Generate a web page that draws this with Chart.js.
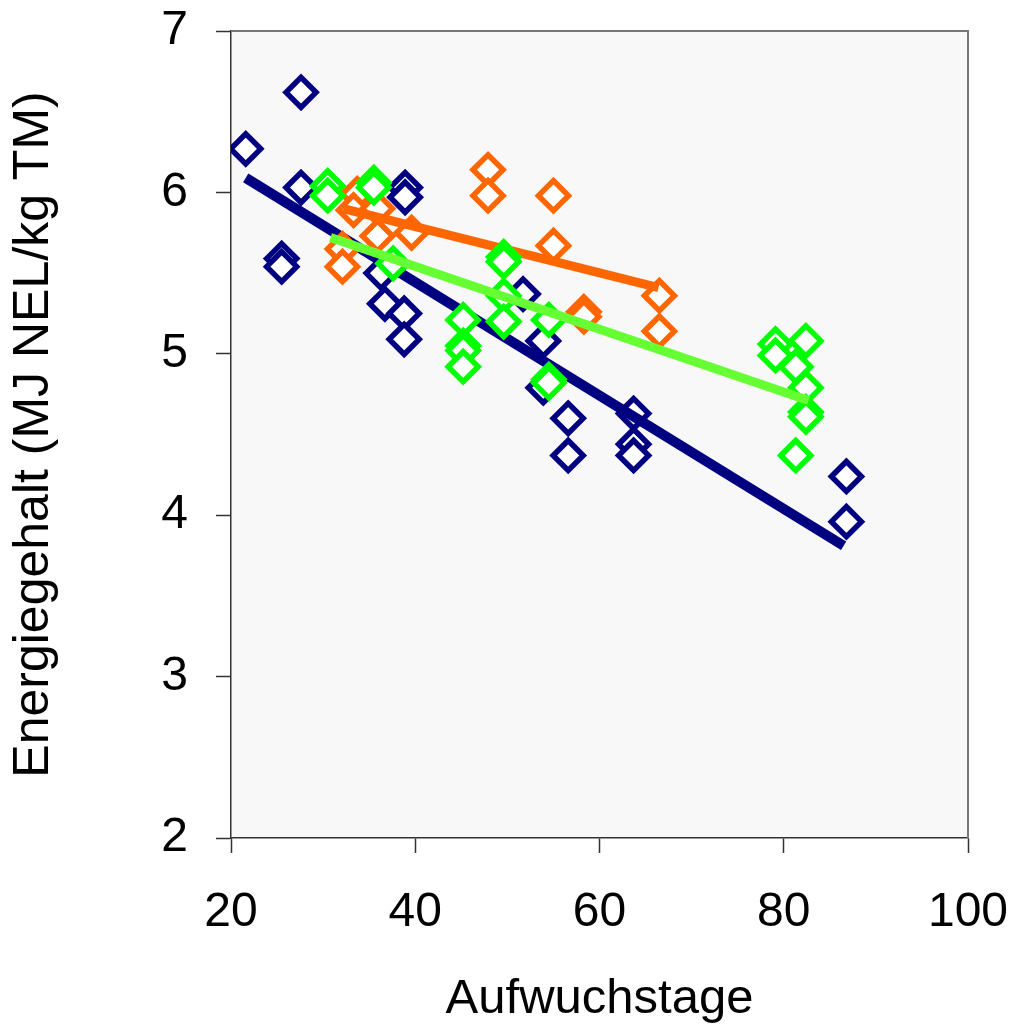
<!DOCTYPE html>
<html>
<head>
<meta charset="utf-8">
<script src="https://cdn.jsdelivr.net/npm/chart.js@4"></script>
<style>
  body { margin: 0; background: #fff; }
</style>
</head>
<body>
<canvas id="myChart" width="1009" height="1033"></canvas>
<script>
// Messpunkte (Aufwuchstage, MJ NEL/kg TM)
const navyX = [21.6, 27.6, 27.6, 25.5, 25.5, 38.9, 38.9, 36.3, 36.7, 38.8, 38.8, 51.7, 53.9, 53.9, 56.6, 56.6, 63.7, 63.7, 63.7, 86.8, 86.8];
const navyY = [6.27, 6.62, 6.03, 5.59, 5.54, 6.03, 5.97, 5.50, 5.31, 5.25, 5.09, 5.37, 5.08, 4.79, 4.60, 4.37, 4.63, 4.44, 4.37, 4.24, 3.96];

const greenX = [30.5, 30.5, 35.5, 35.5, 37.6, 49.6, 49.6, 49.6, 49.6, 45.2, 45.2, 45.2, 45.2, 54.5, 54.5, 54.5, 79.1, 79.1, 82.4, 81.3, 82.4, 82.4, 82.4, 81.3];
const greenY = [6.04, 5.98, 6.06, 6.03, 5.56, 5.60, 5.57, 5.36, 5.20, 5.21, 5.05, 5.02, 4.92, 5.21, 4.84, 4.82, 5.06, 4.99, 5.08, 4.92, 4.79, 4.64, 4.61, 4.37];

const orangeX = [33.7, 33.3, 35.9, 35.9, 39.6, 32.1, 32.1, 47.9, 47.9, 55.0, 55.0, 58.3, 58.3, 66.5, 66.5];
const orangeY = [5.99, 5.89, 5.90, 5.73, 5.75, 5.65, 5.54, 6.14, 5.98, 5.98, 5.67, 5.26, 5.23, 5.36, 5.14];

// Regressionsgeraden (Endpunkte)
const navyLineX = [21.6, 86.5];
const navyLineY = [6.09, 3.81];
const greenLineX = [30.8, 82.7];
const greenLineY = [5.72, 4.71];
const orangeLineX = [32.2, 66.4];
const orangeLineY = [5.90, 5.41];

const xTicks = [20, 40, 60, 80, 100];
const yTicks = [2, 3, 4, 5, 6, 7];

function pts(xs, ys) {
  return xs.map((x, i) => ({ x: x, y: ys[i] }));
}

function pointSet(xs, ys, color, order) {
  return {
    data: pts(xs, ys),
    pointStyle: 'rectRot',
    pointRadius: 15,
    pointHoverRadius: 15,
    pointBorderWidth: 5.5,
    pointBorderColor: color,
    pointBackgroundColor: '#ffffff',
    showLine: false,
    order: order
  };
}

function lineSet(xs, ys, color, width, order) {
  return {
    data: pts(xs, ys),
    showLine: true,
    borderColor: color,
    borderWidth: width,
    pointRadius: 0,
    pointHoverRadius: 0,
    fill: false,
    order: order
  };
}

const plotBg = {
  id: 'plotBg',
  beforeDraw(chart) {
    const { ctx, chartArea: a } = chart;
    ctx.save();
    ctx.fillStyle = '#f8f8f8';
    ctx.fillRect(a.left, a.top, a.right - a.left, a.bottom - a.top);
    ctx.restore();
  },
  afterDraw(chart) {
    const { ctx, chartArea: a } = chart;
    ctx.save();
    ctx.strokeStyle = '#777777';
    ctx.lineWidth = 2;
    ctx.beginPath();
    ctx.moveTo(a.left, a.top);
    ctx.lineTo(a.right, a.top);
    ctx.lineTo(a.right, a.bottom);
    ctx.stroke();
    ctx.restore();
  }
};

const tickFont = { family: '"Liberation Sans", Arial, sans-serif', size: 48, lineHeight: 1 };
const titleFont = { family: '"Liberation Sans", Arial, sans-serif', size: 49, lineHeight: 1 };

const config = {
  type: 'scatter',
  data: {
    datasets: [
      pointSet(navyX, navyY, '#000080', 6),
      lineSet(navyLineX, navyLineY, '#000080', 10, 5),
      pointSet(orangeX, orangeY, '#ff6600', 4),
      lineSet(orangeLineX, orangeLineY, '#ff6600', 9, 3),
      pointSet(greenX, greenY, '#00ff00', 2),
      lineSet(greenLineX, greenLineY, '#66ff33', 9, 1)
    ]
  },
  options: {
    responsive: false,
    animation: false,
    events: [],
    layout: { padding: { top: 31, right: 41, left: 0, bottom: 0 } },
    plugins: {
      legend: { display: false },
      tooltip: { enabled: false }
    },
    scales: {
      x: {
        type: 'linear',
        min: 20,
        max: 100,
        afterFit(scale) {
          scale.height = 195;
          scale.paddingLeft = 0;
          scale.paddingRight = 0;
        },
        afterBuildTicks(scale) { scale.ticks = xTicks.map(v => ({ value: v })); },
        border: { color: '#333333', width: 1.5 },
        grid: { drawOnChartArea: false, drawTicks: true, tickLength: 15, tickColor: '#333333', tickWidth: 1.5 },
        ticks: { color: '#000', font: tickFont, padding: 36, maxRotation: 0 },
        title: { display: true, text: 'Aufwuchstage', color: '#000', font: titleFont, padding: { top: 0, bottom: 9 } }
      },
      y: {
        type: 'linear',
        min: 2,
        max: 7,
        afterFit(scale) {
          scale.width = 231;
          scale.paddingTop = 0;
          scale.paddingBottom = 0;
        },
        afterBuildTicks(scale) { scale.ticks = yTicks.map(v => ({ value: v })); },
        border: { color: '#333333', width: 1.5 },
        grid: { drawOnChartArea: false, drawTicks: true, tickLength: 15, tickColor: '#333333', tickWidth: 1.5 },
        ticks: { color: '#000', font: tickFont, padding: 28 },
        title: { display: true, text: 'Energiegehalt (MJ NEL/kg TM)', color: '#000', font: { family: '"Liberation Sans", Arial, sans-serif', size: 50, lineHeight: 1 }, padding: { top: 9, bottom: 0 } }
      }
    }
  },
  plugins: [plotBg]
};

const myChart = new Chart(document.getElementById('myChart'), config);
</script>
</body>
</html>
